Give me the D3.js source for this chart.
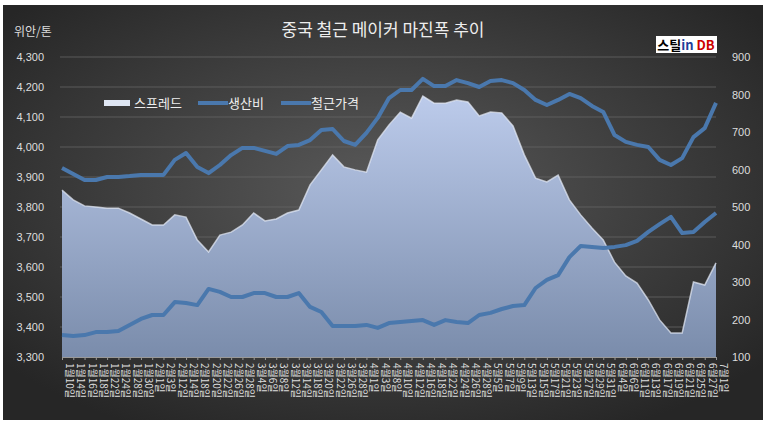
<!DOCTYPE html>
<html><head><meta charset="utf-8">
<script src="https://cdn.jsdelivr.net/npm/d3@7"></script>
<style>body{margin:0;background:#fff}svg{display:block}</style></head>
<body><svg id="c" width="766" height="423"></svg>
<script>
const months=[1,1,1,1,1,1,1,1, 2,2,2,2,2,2,2,2,2, 3,3,3,3,3,3,3,3,3,3, 4,4,4,4,4,4,4,4,4,4,4, 5,5,5,5,5,5,5,5,5,5,5, 6,6,6,6,6,6,6,6,6, 7];
const days=[10,14,16,18,22,24,28,30, 1,3,12,14,18,20,22,26,28, 4,6,8,12,14,18,20,22,26,28, 1,3,8,10,12,16,18,22,24,26,28, 5,7,9,13,15,17,21,23,27,29,31, 4,6,11,13,17,19,21,25,27, 1];
const categories=months.map((m,i)=>m+"월"+days[i]+"일");
const price=[3930,3910,3890,3890,3900,3900,3903,3907,3907,3907,3957,3980,3933,3913,3940,3973,3997,3997,3987,3977,4003,4007,4023,4057,4060,4020,4007,4047,4097,4163,4190,4190,4227,4203,4203,4223,4213,4200,4220,4223,4213,4190,4157,4140,4157,4177,4163,4137,4117,4040,4017,4007,4000,3957,3940,3963,4033,4063,4147];
const cost=[3373,3370,3373,3383,3383,3387,3407,3427,3440,3440,3483,3480,3473,3527,3517,3500,3500,3513,3513,3500,3500,3513,3467,3450,3403,3403,3403,3407,3397,3413,3417,3420,3423,3407,3423,3417,3413,3440,3447,3460,3470,3473,3530,3557,3573,3633,3670,3667,3663,3667,3673,3687,3717,3743,3767,3713,3717,3750,3780];
const spread=[545,519,503,500,497,497,484,468,452,452,479,473,412,380,425,433,452,484,463,468,484,492,559,599,639,607,599,593,679,719,753,737,796,777,777,785,780,743,753,751,716,639,577,567,585,519,479,444,412,353,316,297,252,199,164,164,300,292,351];
const leftTicks=[3300,3400,3500,3600,3700,3800,3900,4000,4100,4200,4300];
const rightTicks=[100,200,300,400,500,600,700,800,900];

const svg=d3.select("#c");
const defs=svg.append("defs");
const bg=defs.append("radialGradient").attr("id","bg").attr("cx","50%").attr("cy","45%").attr("r","65%");
bg.append("stop").attr("offset","0%").attr("stop-color","#5a5a5a");
bg.append("stop").attr("offset","100%").attr("stop-color","#262626");
const ag=defs.append("linearGradient").attr("id","ag").attr("x1",0).attr("y1",0).attr("x2",0).attr("y2",1);
ag.append("stop").attr("offset","0%").attr("stop-color","#bccbeb");
ag.append("stop").attr("offset","100%").attr("stop-color","#7a8cab");
svg.append("rect").attr("x",0).attr("y",0).attr("width",766).attr("height",423).attr("fill","#fff");
svg.append("rect").attr("x",3).attr("y",5).attr("width",760).attr("height",415).attr("fill","url(#bg)");

const L=60,R=716,T=57,B=357;
const x=d3.scalePoint().domain(categories).range([L+2,R]);
const yl=d3.scaleLinear().domain([3300,4300]).range([B,T]);
const yr=d3.scaleLinear().domain([100,900]).range([B,T]);

svg.append("g").selectAll("line").data(leftTicks.slice(1)).join("line")
 .attr("x1",L).attr("x2",R).attr("y1",d=>yl(d)).attr("y2",d=>yl(d)).attr("stroke","#666").attr("stroke-width",0.8);

svg.append("path").datum(spread).attr("fill","url(#ag)")
 .attr("d",d3.area().x((d,i)=>x(categories[i])).y0(B).y1(d=>yr(d)));
svg.append("path").datum(spread).attr("fill","none").attr("stroke","#e8eefa").attr("stroke-width",1.5).attr("opacity",0.7)
 .attr("d",d3.line().x((d,i)=>x(categories[i])).y(d=>yr(d)));

const line=d3.line().x((d,i)=>x(categories[i])).y(d=>yl(d));
[cost,price].forEach(s=>svg.append("path").datum(s).attr("fill","none").attr("stroke","#4a78ad").attr("stroke-width",4).attr("stroke-linejoin","round").attr("d",line));

// axes
const ax=svg.append("g").attr("transform",`translate(0,${B})`).call(d3.axisBottom(x).tickSize(3).tickFormat(""));
ax.select(".domain").attr("stroke","#999");ax.selectAll("line").attr("stroke","#999");
svg.append("g").selectAll("text").data(categories).join("text")
 .attr("transform",d=>`translate(${x(d)+4},${B+6}) rotate(90)`)
 .attr("fill","#ddd").attr("font-size",10).attr("font-family","Noto Sans CJK KR").text(d=>d);
const fmt=d3.format(",");
svg.append("g").selectAll("text").data(leftTicks).join("text").attr("x",44).attr("y",d=>yl(d)+4)
 .attr("text-anchor","end").attr("fill","#ddd").attr("font-size",11).attr("font-family","Liberation Sans Narrow, Liberation Sans").text(fmt);
svg.append("g").selectAll("text").data(rightTicks).join("text").attr("x",732).attr("y",d=>yr(d)+4)
 .attr("fill","#ddd").attr("font-size",11).attr("font-family","Liberation Sans Narrow, Liberation Sans").text(d=>d);
svg.append("text").attr("x",14).attr("y",36).attr("fill","#ddd").attr("font-size",12).attr("font-family","Noto Sans CJK KR").text("위안/톤");
svg.append("text").attr("x",383).attr("y",36).attr("text-anchor","middle").attr("fill","#eee").attr("font-size",17).attr("font-family","Noto Sans CJK KR").text("중국 철근 메이커 마진폭 추이");
// logo
svg.append("rect").attr("x",656).attr("y",36).attr("width",61).attr("height",17).attr("fill","#fff");
svg.append("text").attr("x",686).attr("y",50).attr("text-anchor","middle").attr("font-size",13).attr("font-weight","bold").attr("font-family","Noto Sans CJK KR").attr("fill","#000").text("스틸").append("tspan").attr("fill","#1f3f99").text("in ").append("tspan").attr("fill","#c00").text("DB");
// legend
const lg=svg.append("g").attr("transform","translate(104,103)");
lg.append("rect").attr("x",0).attr("y",-3).attr("width",26).attr("height",6).attr("fill","#dfe6f3");
lg.append("text").attr("x",30).attr("y",5).attr("fill","#eee").attr("font-size",13).attr("font-family","Noto Sans CJK KR").text("스프레드");
lg.append("line").attr("x1",94).attr("x2",124).attr("y1",0).attr("y2",0).attr("stroke","#4a78ad").attr("stroke-width",4);
lg.append("text").attr("x",124).attr("y",5).attr("fill","#eee").attr("font-size",13).attr("font-family","Noto Sans CJK KR").text("생산비");
lg.append("line").attr("x1",177).attr("x2",207).attr("y1",0).attr("y2",0).attr("stroke","#4a78ad").attr("stroke-width",4);
lg.append("text").attr("x",207).attr("y",5).attr("fill","#eee").attr("font-size",13).attr("font-family","Noto Sans CJK KR").text("철근가격");
</script></body></html>
